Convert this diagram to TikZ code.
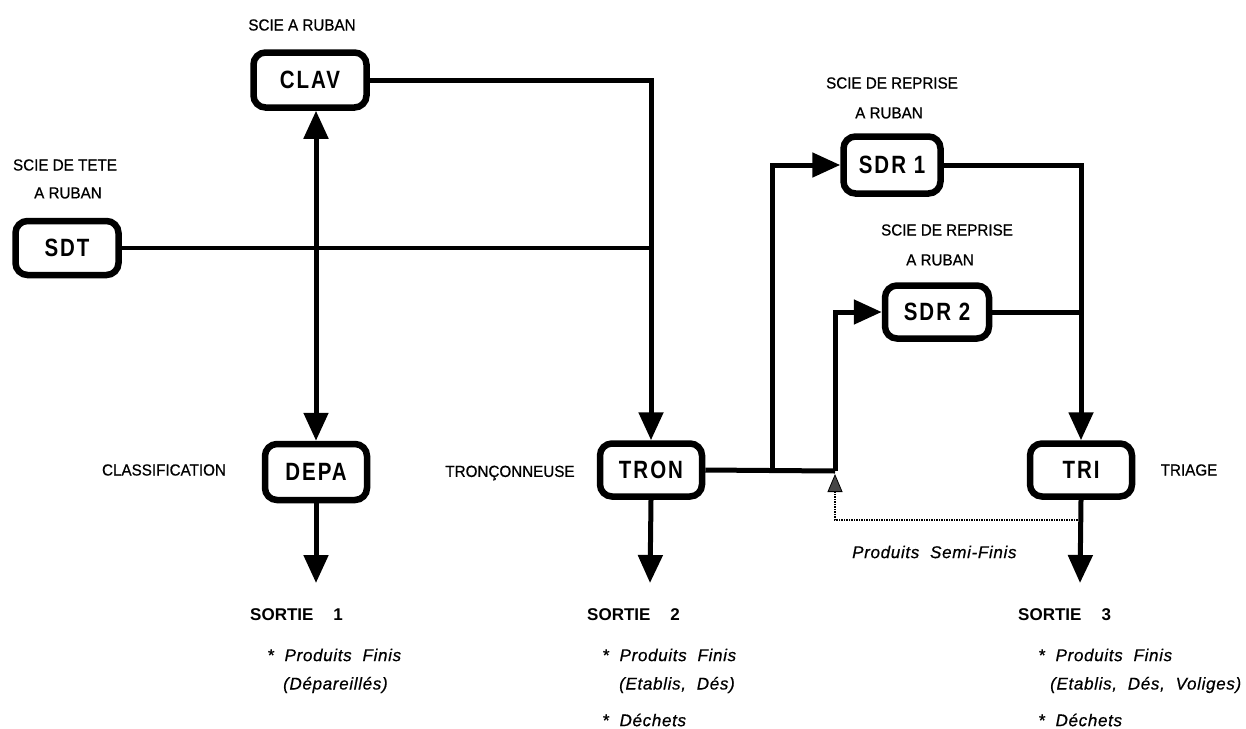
\documentclass[tikz,border=0pt]{standalone}
\usepackage{fontspec}
\setmainfont{Liberation Sans}
\newfontfamily\boxfont[FakeStretch=0.82,LetterSpace=8]{Liberation Sans}
\newfontfamily\itfont[LetterSpace=4,FakeBold=0.6]{Liberation Sans}
\newfontfamily\lblfontfam[FakeStretch=0.95,FakeBold=0.7]{Liberation Sans}
\usetikzlibrary{arrows.meta}
\tikzset{
 mach/.style={draw, line width=6.5pt, rounded corners=12pt, inner sep=0pt, font=\boxfont\bfseries\fontsize{25}{28}\selectfont},
 lbl/.style={font=\lblfontfam\fontsize{16}{20}\selectfont, inner sep=0pt, align=center},
 flow/.style={line width=5pt, -{Triangle[length=28pt,width=24pt]}},
 dflow/.style={line width=5pt, {Triangle[length=28pt,width=24pt]}-{Triangle[length=28pt,width=24pt]}},
 plainline/.style={line width=5pt},
 thinline/.style={line width=3.8pt},
 semifin/.style={line width=2.2pt, dash pattern=on 1.4pt off 1.1pt, -{Triangle[length=18pt,width=15pt,color=black,fill=gray!55!black,line width=0.8pt]}},
 outlbl/.style={font=\bfseries\fontsize{17}{20}\selectfont, anchor=west, inner sep=0pt},
 prod/.style={font=\itfont\itshape\fontsize{17}{20}\selectfont, anchor=west, inner sep=0pt},
}
\begin{document}
\begin{tikzpicture}[x=1pt,y=-1pt]
\path[use as bounding box] (0,0) rectangle (1246,728);

% machines
\node[mach, minimum width=113pt, minimum height=55pt] (CLAV) at (310,80) {CLAV};
\node[mach, minimum width=103pt, minimum height=54pt] (SDT) at (67,248) {SDT};
\node[mach, minimum width=102pt, minimum height=56pt] (DEPA) at (316,472) {DEPA};
\node[mach, minimum width=102pt, minimum height=53pt] (TRON) at (651,470) {TRON};
\node[mach, minimum width=102pt, minimum height=53pt] (TRI) at (1081,470) {TRI};
\node[mach, minimum width=97pt, minimum height=57pt] (SDR1) at (892,165) {SDR 1};
\node[mach, minimum width=104pt, minimum height=53pt] (SDR2) at (937,312) {SDR 2};

% labels
\node[lbl] (lclav) at (302,25) {SCIE A RUBAN};
\node[lbl] (lsdt1) at (65,165) {SCIE DE TETE};
\node[lbl] (lsdt2) at (68,193) {A RUBAN};
\node[lbl] (lsdr1a) at (892,83) {SCIE DE REPRISE};
\node[lbl] (lsdr1b) at (889,113) {A RUBAN};
\node[lbl] (lsdr2a) at (947,230) {SCIE DE REPRISE};
\node[lbl] (lsdr2b) at (940,260) {A RUBAN};
\node[lbl] (ldepa) at (164,470) {CLASSIFICATION};
\node[lbl] (ltron) at (510,473) {TRON\c{C}ONNEUSE};
\node[lbl] (ltri) at (1189,470) {TRIAGE};

% connectors
\coordinate (j1) at (772,471);
\coordinate (j2) at (835,471);
\coordinate (o1) at (316,583);
\coordinate (o2) at (650,583);
\coordinate (o3) at (1080,583);
\coordinate (d1) at (1080,520);
\coordinate (d2) at (835,520);
\coordinate (d3) at (835,474);

\draw[flow] (CLAV.east) -| (TRON.north);
\draw[thinline] (SDT.east) -- (SDT.east -| TRON.north);
\draw[dflow] (DEPA.north) -- (DEPA.north |- CLAV.south);
\draw[flow] (DEPA.south) -- (o1);
\draw[flow] (TRON.south) -- (o2);
\draw[plainline] (TRON.east) -- (j2);
\draw[flow] (j1) |- (SDR1.west);
\draw[flow] (j2) |- (SDR2.west);
\draw[flow] (SDR1.east) -| (TRI.north);
\draw[plainline] (SDR2.east) -- (SDR2.east -| TRI.north);
\draw[flow] (TRI.south) -- (o3);
\draw[semifin] (d1) -- (d2) -- (d3);

% outputs
\node[prod] (semi) at (852,552) {Produits\ \ Semi-Finis};

\node[outlbl] (s1) at (250,615) {SORTIE\hspace{20pt}1};
\node[prod] (s1a) at (267,655) {*\ \ Produits\ \ Finis};
\node[prod] (s1b) at (283,685) {(Dépareillés)};

\node[outlbl] (s2) at (587,615) {SORTIE\hspace{20pt}2};
\node[prod] (s2a) at (602,655) {*\ \ Produits\ \ Finis};
\node[prod] (s2b) at (619,685) {(Etablis,\ \ Dés)};
\node[prod] (s2c) at (602,720) {*\ \ Déchets};

\node[outlbl] (s3) at (1018,615) {SORTIE\hspace{20pt}3};
\node[prod] (s3a) at (1038,655) {*\ \ Produits\ \ Finis};
\node[prod] (s3b) at (1050,685) {(Etablis,\ \ Dés,\ \ Voliges)};
\node[prod] (s3c) at (1038,720) {*\ \ Déchets};
\end{tikzpicture}
\end{document}
